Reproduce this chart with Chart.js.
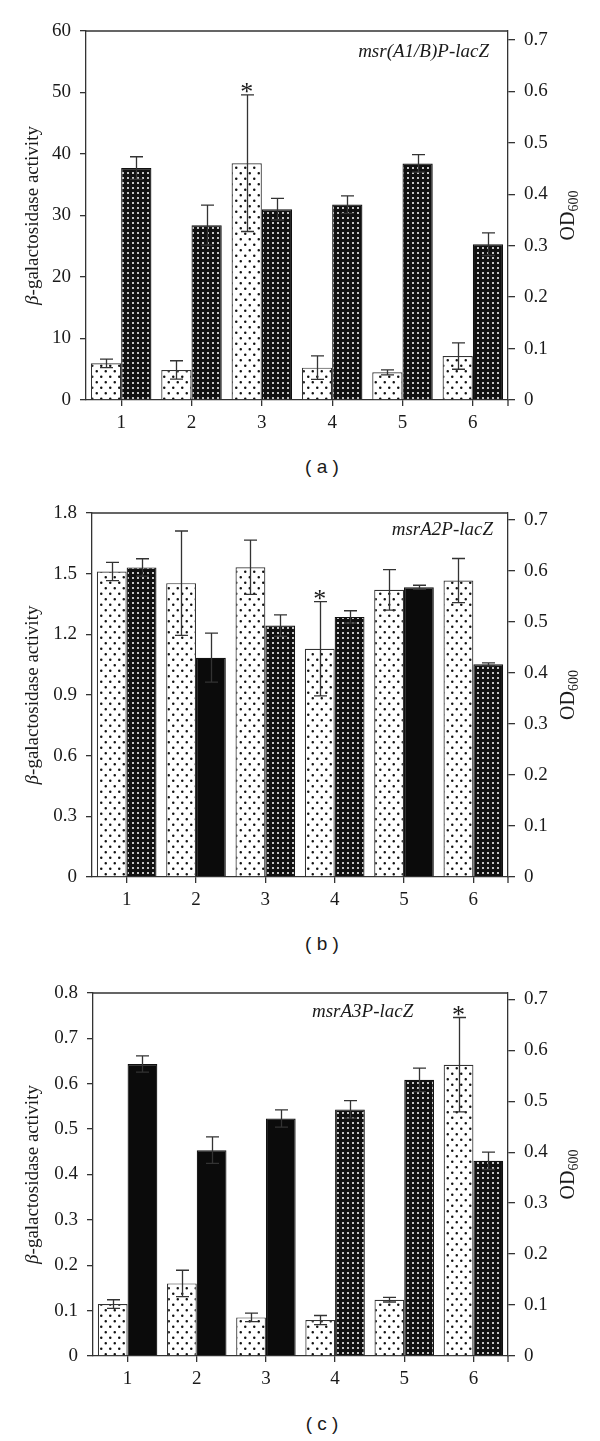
<!DOCTYPE html>
<html lang="en">
<head>
<meta charset="UTF-8">
<title>msr promoter-lacZ activity</title>
<script src="https://cdn.jsdelivr.net/npm/chart.js@4.4.1/dist/chart.umd.min.js"></script>
<style>
  body { margin: 0; background: #fff; }
  #page { position: relative; width: 600px; height: 1441px; overflow: hidden; }
  .panel { position: absolute; left: 0; }
  .tag { position: absolute; left: 282px; width: 80px; text-align: center;
         font: 19px "Liberation Sans", Arial, sans-serif; color: #1a1a1a; line-height: 22px; }
</style>
</head>
<body>
<div id="page">
  <canvas id="chartA" class="panel" width="600" height="440" style="top:0px"></canvas>
  <div class="tag" style="top:456px">( a )</div>
  <canvas id="chartB" class="panel" width="600" height="440" style="top:470px"></canvas>
  <div class="tag" style="top:933px">( b )</div>
  <canvas id="chartC" class="panel" width="600" height="440" style="top:950px"></canvas>
  <div class="tag" style="top:1413px">( c )</div>
</div>
<script>

var categories = ['1', '2', '3', '4', '5', '6'];

// (a) msr(A1/B)P-lacZ
var galA    = [5.96, 4.88, 38.5, 5.26, 4.5, 7.15];
var galErrA = [0.7, 1.5, 11.1, 1.9, 0.4, 2.15];
var odA     = [0.451, 0.340, 0.371, 0.380, 0.460, 0.303];
var odErrA  = [0.022, 0.039, 0.021, 0.017, 0.017, 0.022];
var galTicksA = [0, 10, 20, 30, 40, 50, 60];

// (b) msrA2P-lacZ
var galB    = [1.511, 1.453, 1.532, 1.129, 1.420, 1.466];
var galErrB = [0.045, 0.258, 0.134, 0.233, 0.10, 0.109];
var odB     = [0.607, 0.430, 0.493, 0.510, 0.568, 0.417];
var odErrB  = [0.017, 0.048, 0.021, 0.012, 0.004, 0.003];
var galTicksB = [0, 0.3, 0.6, 0.9, 1.2, 1.5, 1.8];

// (c) msrA3P-lacZ
var galC    = [0.1145, 0.160, 0.0851, 0.0793, 0.124, 0.642];
var galErrC = [0.0095, 0.029, 0.0095, 0.010, 0.005, 0.104];
var odC     = [0.573, 0.404, 0.466, 0.484, 0.542, 0.383];
var odErrC  = [0.016, 0.026, 0.017, 0.017, 0.023, 0.017];
var galTicksC = [0, 0.1, 0.2, 0.3, 0.4, 0.5, 0.6, 0.7, 0.8];

var odTicks = [0, 0.1, 0.2, 0.3, 0.4, 0.5, 0.6, 0.7];

// which light bar carries the asterisk, which OD bars are drawn solid
var starA = 2, starB = 3, starC = 5;
var solidA = [], solidB = [1, 4], solidC = [0, 1, 2];

var serif = '"Liberation Serif", "Times New Roman", serif';
var ink = '#1a1a1a';
var axisColor = '#333';

var panels = [
  { id: 'chartA', top: 0,   areaTop: 31,  areaBottom: 400,  left: 86,
    gal: galA, galErr: galErrA, od: odA, odErr: odErrA, galTicks: galTicksA,
    galMax: 60, odMax: 0.7175, star: starA, solid: solidA, intTicks: true,
    note: 'msr(A1/B)P-lacZ', noteX: 489, noteY: 57, noteAlign: 'right' },
  { id: 'chartB', top: 470, areaTop: 513, areaBottom: 877,  left: 92,
    gal: galB, galErr: galErrB, od: odB, odErr: odErrB, galTicks: galTicksB,
    galMax: 1.8, odMax: 0.7137, star: starB, solid: solidB, intTicks: false,
    note: 'msrA2P-lacZ', noteX: 493, noteY: 535, noteAlign: 'right' },
  { id: 'chartC', top: 950, areaTop: 993, areaBottom: 1356, left: 93,
    gal: galC, galErr: galErrC, od: odC, odErr: odErrC, galTicks: galTicksC,
    galMax: 0.8, odMax: 0.7124, star: starC, solid: solidC, intTicks: false,
    note: 'msrA3P-lacZ', noteX: 312, noteY: 1017, noteAlign: 'left' }
];

function lightPattern(ctx) {
  var c = document.createElement('canvas');
  c.width = 9; c.height = 11;
  var g = c.getContext('2d');
  g.fillStyle = '#fff';
  g.fillRect(0, 0, 9, 11);
  g.fillStyle = '#111';
  g.beginPath();
  g.arc(2.25, 2.75, 1.25, 0, 2 * Math.PI);
  g.moveTo(8, 8.25);
  g.arc(6.75, 8.25, 1.25, 0, 2 * Math.PI);
  g.fill();
  return ctx.createPattern(c, 'repeat');
}

function darkPattern(ctx) {
  var c = document.createElement('canvas');
  c.width = 5; c.height = 5;
  var g = c.getContext('2d');
  g.fillStyle = '#111';
  g.fillRect(0, 0, 5, 5);
  g.fillStyle = '#c4c4c4';
  g.fillRect(2, 2, 2, 2);
  return ctx.createPattern(c, 'repeat');
}

function fmtDec(v) { return v === 0 ? '0' : v.toFixed(1); }

var errorBars = {
  id: 'errorBars',
  afterDatasetsDraw: function(chart) {
    var ctx = chart.ctx;
    ctx.save();
    ctx.strokeStyle = axisColor;
    ctx.lineWidth = 1.3;
    chart.data.datasets.forEach(function(ds, di) {
      var meta = chart.getDatasetMeta(di);
      var scale = chart.scales[ds.yAxisID];
      meta.data.forEach(function(bar, i) {
        var v = ds.data[i], e = ds.err[i];
        var x = Math.round(bar.x) + 0.5;
        var yTop = scale.getPixelForValue(v + e);
        var yBot = scale.getPixelForValue(v - e);
        ctx.beginPath();
        ctx.moveTo(x, yTop); ctx.lineTo(x, yBot);
        ctx.moveTo(x - 6.5, yTop); ctx.lineTo(x + 6.5, yTop);
        ctx.moveTo(x - 6.5, yBot); ctx.lineTo(x + 6.5, yBot);
        ctx.stroke();
      });
    });
    ctx.restore();
  }
};

var frameAndText = {
  id: 'frameAndText',
  afterDraw: function(chart) {
    var p = chart.options.panel;
    var ctx = chart.ctx;
    var a = chart.chartArea;
    ctx.save();
    // top edge of the frame and the small foot under the right axis
    ctx.strokeStyle = axisColor;
    ctx.lineWidth = 1.3;
    ctx.beginPath();
    ctx.moveTo(a.left, a.top); ctx.lineTo(a.right, a.top);
    ctx.moveTo(a.right, a.bottom); ctx.lineTo(a.right, a.bottom + 6);
    ctx.stroke();

    ctx.fillStyle = ink;
    var midY = (a.top + a.bottom) / 2;

    // left title: italic beta + rest
    ctx.save();
    ctx.translate(33, midY);
    ctx.rotate(-Math.PI / 2);
    ctx.textBaseline = 'middle';
    ctx.textAlign = 'left';
    ctx.font = 'italic 19px ' + serif;
    var w1 = ctx.measureText('β').width;
    ctx.font = '19px ' + serif;
    var w2 = ctx.measureText('-galactosidase activity').width;
    var x0 = -(w1 + w2) / 2;
    ctx.font = 'italic 19px ' + serif;
    ctx.fillText('β', x0, 0);
    ctx.font = '19px ' + serif;
    ctx.fillText('-galactosidase activity', x0 + w1, 0);
    ctx.restore();

    // right title: OD with subscript 600
    ctx.save();
    ctx.translate(567, midY);
    ctx.rotate(-Math.PI / 2);
    ctx.textBaseline = 'alphabetic';
    ctx.textAlign = 'left';
    ctx.font = '20px ' + serif;
    var o1 = ctx.measureText('OD').width;
    ctx.font = '14px ' + serif;
    var o2 = ctx.measureText('600').width;
    var s0 = -(o1 + o2) / 2;
    ctx.font = '20px ' + serif;
    ctx.fillText('OD', s0, 7);
    ctx.font = '14px ' + serif;
    ctx.fillText('600', s0 + o1, 11);
    ctx.restore();

    // construct label
    ctx.font = 'italic 19px ' + serif;
    ctx.textAlign = p.noteAlign;
    ctx.textBaseline = 'alphabetic';
    ctx.fillText(p.note, p.noteX, p.noteY - p.top);

    // asterisk above the marked error bar
    var bar = chart.getDatasetMeta(0).data[p.star];
    var yTop = chart.scales.y.getPixelForValue(p.gal[p.star] + p.galErr[p.star]);
    ctx.font = '26px ' + serif;
    ctx.textAlign = 'center';
    ctx.fillText('*', bar.x, yTop + 5);
    ctx.restore();
  }
};

function makeChart(p) {
  var ctx = document.getElementById(p.id).getContext('2d');
  var lp = lightPattern(ctx);
  var dp = darkPattern(ctx);
  var lightFill = categories.map(function() { return lp; });
  var darkFill = categories.map(function(c, i) { return p.solid.indexOf(i) >= 0 ? '#0b0b0b' : dp; });
  var tickFont = { family: serif, size: 19 };

  return new Chart(ctx, {
    type: 'bar',
    data: {
      labels: categories,
      datasets: [
        { label: 'β-galactosidase activity', data: p.gal, err: p.galErr, yAxisID: 'y',
          backgroundColor: lightFill, borderColor: '#333', borderWidth: 1.2 },
        { label: 'OD600', data: p.od, err: p.odErr, yAxisID: 'y1',
          backgroundColor: darkFill, borderColor: '#111', borderWidth: 1.2 }
      ]
    },
    options: {
      panel: p,
      responsive: false,
      animation: false,
      events: [],
      layout: { padding: { top: p.areaTop - p.top, left: 0, right: 0, bottom: 0 } },
      datasets: { bar: { categoryPercentage: 0.86, barPercentage: 1.0 } },
      plugins: { legend: { display: false }, tooltip: { enabled: false } },
      scales: {
        x: {
          grid: { drawOnChartArea: false, offset: false, tickLength: 6, color: axisColor, lineWidth: 1.3 },
          border: { color: axisColor, width: 1.3 },
          ticks: { font: tickFont, color: ink, padding: 6, maxRotation: 0 },
          afterFit: function(s) { s.height = 440 - (p.areaBottom - p.top); }
        },
        y: {
          position: 'left', min: 0, max: p.galMax,
          afterBuildTicks: function(s) { s.ticks = p.galTicks.map(function(v) { return { value: v }; }); },
          grid: { drawOnChartArea: false, tickLength: 6, color: axisColor, lineWidth: 1.3 },
          border: { color: axisColor, width: 1.3 },
          ticks: { font: tickFont, color: ink, padding: 9,
                   callback: function(v) { return p.intTicks ? String(v) : fmtDec(v); } },
          afterFit: function(s) { s.width = p.left; }
        },
        y1: {
          position: 'right', min: 0, max: p.odMax,
          afterBuildTicks: function(s) { s.ticks = odTicks.map(function(v) { return { value: v }; }); },
          grid: { drawOnChartArea: false, tickLength: 7, color: axisColor, lineWidth: 1.3 },
          border: { color: axisColor, width: 1.3 },
          ticks: { font: tickFont, color: ink, padding: 9, callback: fmtDec },
          afterFit: function(s) { s.width = 92; }
        }
      }
    },
    plugins: [errorBars, frameAndText]
  });
}

panels.forEach(makeChart);
</script>
</body>
</html>
